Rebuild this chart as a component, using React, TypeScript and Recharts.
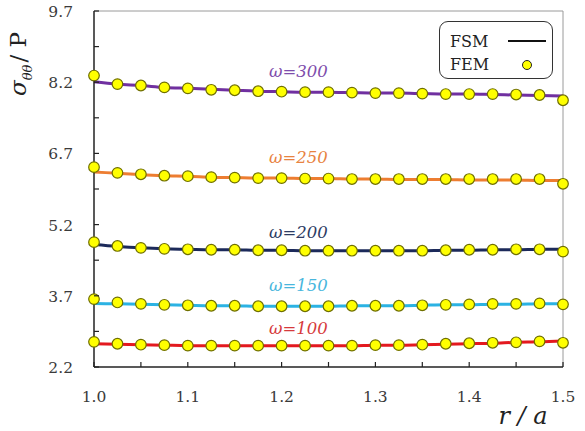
import { ComposedChart, Line, XAxis, YAxis, Legend, ReferenceLine, ReferenceDot } from 'recharts';

// r/a sample positions (FEM nodes)
const rValues = [1.0, 1.025, 1.05, 1.075, 1.1, 1.125, 1.15, 1.175, 1.2, 1.225, 1.25, 1.275, 1.3, 1.325, 1.35, 1.375, 1.4, 1.425, 1.45, 1.475, 1.5];

// FSM curves
const fsm300 = [8.21, 8.16, 8.13, 8.09, 8.07, 8.05, 8.03, 8.01, 8.0, 7.99, 7.99, 7.98, 7.97, 7.97, 7.96, 7.95, 7.95, 7.94, 7.93, 7.92, 7.91];
const fsm250 = [6.31, 6.28, 6.25, 6.23, 6.22, 6.2, 6.19, 6.18, 6.18, 6.17, 6.17, 6.16, 6.16, 6.15, 6.15, 6.15, 6.14, 6.14, 6.14, 6.13, 6.13];
const fsm200 = [4.78, 4.74, 4.71, 4.69, 4.68, 4.67, 4.67, 4.66, 4.66, 4.65, 4.65, 4.65, 4.65, 4.65, 4.65, 4.66, 4.66, 4.67, 4.67, 4.68, 4.68];
const fsm150 = [3.54, 3.53, 3.52, 3.51, 3.5, 3.49, 3.49, 3.48, 3.48, 3.48, 3.48, 3.49, 3.49, 3.49, 3.5, 3.51, 3.51, 3.52, 3.52, 3.53, 3.53];
const fsm100 = [2.69, 2.68, 2.67, 2.66, 2.65, 2.65, 2.65, 2.65, 2.65, 2.65, 2.65, 2.65, 2.66, 2.66, 2.67, 2.68, 2.69, 2.7, 2.72, 2.73, 2.75];

// FEM points
const fem300 = [8.34, 8.16, 8.13, 8.09, 8.07, 8.04, 8.03, 8.01, 8.0, 7.99, 7.99, 7.98, 7.97, 7.97, 7.96, 7.95, 7.95, 7.95, 7.94, 7.93, 7.82];
const fem250 = [6.41, 6.29, 6.26, 6.23, 6.22, 6.2, 6.19, 6.18, 6.18, 6.17, 6.17, 6.16, 6.16, 6.16, 6.16, 6.16, 6.16, 6.16, 6.16, 6.16, 6.06];
const fem200 = [4.83, 4.75, 4.71, 4.69, 4.68, 4.67, 4.67, 4.66, 4.66, 4.65, 4.65, 4.65, 4.65, 4.65, 4.65, 4.66, 4.67, 4.67, 4.68, 4.68, 4.63];
const fem150 = [3.63, 3.56, 3.53, 3.51, 3.5, 3.49, 3.49, 3.48, 3.48, 3.48, 3.48, 3.49, 3.49, 3.49, 3.5, 3.51, 3.52, 3.53, 3.53, 3.54, 3.52];
const fem100 = [2.73, 2.69, 2.67, 2.66, 2.65, 2.65, 2.65, 2.65, 2.65, 2.65, 2.65, 2.65, 2.66, 2.66, 2.67, 2.69, 2.7, 2.71, 2.72, 2.74, 2.71];

const xTicks = [1.0, 1.05, 1.1, 1.15, 1.2, 1.25, 1.3, 1.35, 1.4, 1.45, 1.5];
const xLabels = ['1.0', '1.1', '1.2', '1.3', '1.4', '1.5'];
const yTicks = [2.2, 2.95, 3.7, 4.45, 5.2, 5.95, 6.7, 7.45, 8.2, 8.95, 9.7];
const yLabels = ['2.2', '3.7', '5.2', '6.7', '8.2', '9.7'];

const series = [
  { key: 'w300', label: 'ω=300', fsm: fsm300, fem: fem300, color: '#7030a0', text: '#7e4cab', lx: 1.218, ly: 8.44 },
  { key: 'w250', label: 'ω=250', fsm: fsm250, fem: fem250, color: '#ed7d31', text: '#e8833f', lx: 1.218, ly: 6.63 },
  { key: 'w200', label: 'ω=200', fsm: fsm200, fem: fem200, color: '#1c2a5a', text: '#2d3b63', lx: 1.218, ly: 5.05 },
  { key: 'w150', label: 'ω=150', fsm: fsm150, fem: fem150, color: '#2bb2e3', text: '#48b6dd', lx: 1.218, ly: 3.93 },
  { key: 'w100', label: 'ω=100', fsm: fsm100, fem: fem100, color: '#e3191f', text: '#d63a3c', lx: 1.218, ly: 3.02 },
];

const data = rValues.map((r, i) => {
  const row: Record<string, number> = { r };
  series.forEach(s => {
    row[`fsm_${s.key}`] = s.fsm[i];
    row[`fem_${s.key}`] = s.fem[i];
  });
  return row;
});

const FONT = 'DejaVu Serif, serif';

function XTick({ x, y, payload }: any) {
  const label = payload.value.toFixed(1);
  const isMajor = xLabels.includes(label) && Math.abs(payload.value * 10 - Math.round(payload.value * 10)) < 1e-6;
  return (
    <g>
      <line x1={x} x2={x} y1={y} y2={y - 5} stroke="#222" strokeWidth={1.2} />
      {isMajor && (
        <text x={x} y={y + 35} textAnchor="middle" style={{ fontFamily: FONT }} fontSize={15.5} fill="#3a3a3a">{label}</text>
      )}
    </g>
  );
}

function YTick({ x, y, payload }: any) {
  const label = payload.value.toFixed(1);
  const isMajor = yLabels.includes(label) && Math.abs(((payload.value - 2.2) / 1.5) - Math.round((payload.value - 2.2) / 1.5)) < 1e-6;
  return (
    <g>
      <line x1={x} x2={x + 5} y1={y} y2={y} stroke="#222" strokeWidth={1.2} />
      {isMajor && (
        <text x={x - 21} y={y + 6} textAnchor="end" style={{ fontFamily: FONT }} fontSize={15.5} fill="#3a3a3a">{label}</text>
      )}
    </g>
  );
}

function YTitle() {
  return (
    <text x={26} y={64} transform="rotate(-90, 26, 64)" textAnchor="middle" style={{ fontFamily: FONT }} fontSize={23} fill="#222">
      <tspan fontStyle="italic">σ</tspan>
      <tspan fontStyle="italic" fontSize={13} dy={6}>θθ</tspan>
      <tspan dy={-6} dx={2}>/ P</tspan>
    </text>
  );
}

function XTitle() {
  return (
    <text x={523} y={424} textAnchor="middle" style={{ fontFamily: FONT }} fontSize={24} fontStyle="italic" fill="#222">r / a</text>
  );
}

function LegendBox() {
  return (
    <div style={{ position: 'relative', width: 114, height: 58, border: '1.6px solid #333', borderRadius: 9, background: '#fff', fontFamily: FONT, fontSize: 16, color: '#222', boxSizing: 'border-box' }}>
      <span style={{ position: 'absolute', left: 10, top: 9, lineHeight: '22px' }}>FSM</span>
      <span style={{ position: 'absolute', left: 10, top: 32, lineHeight: '22px' }}>FEM</span>
      <div style={{ position: 'absolute', left: 68, top: 18, width: 38, height: 2.2, background: '#111' }} />
      <div style={{ position: 'absolute', left: 82, top: 38, width: 8, height: 8, borderRadius: '50%', background: '#ffff00', border: '1.5px solid #222' }} />
    </div>
  );
}

export default function App() {
  return (
    <div>
      <style>{'body{margin:0;background:#fff}'}</style>
      <ComposedChart width={585} height={431} data={data} margin={{ top: 11, right: 22, bottom: 0, left: 0 }}>
        <XAxis
          dataKey="r"
          type="number"
          domain={[1.0, 1.5]}
          ticks={xTicks}
          tickSize={0}
          tickMargin={0}
          height={64}
          tick={<XTick />}
          axisLine={{ stroke: '#222', strokeWidth: 1.5 }}
          label={{ content: () => <XTitle /> }}
        />
        <YAxis
          type="number"
          domain={[2.2, 9.7]}
          ticks={yTicks}
          tickSize={0}
          tickMargin={0}
          width={94}
          tick={<YTick />}
          axisLine={{ stroke: '#222', strokeWidth: 1.5 }}
          label={{ content: () => <YTitle /> }}
        />
        <ReferenceLine y={9.7} stroke="#9a9a9a" strokeWidth={1} />
        <ReferenceLine x={1.5} stroke="#9a9a9a" strokeWidth={1} />
        <Legend
          layout="vertical"
          align="center"
          verticalAlign="middle"
          content={() => <LegendBox />}
          wrapperStyle={{ position: 'absolute', left: 439, top: 21, width: 114, height: 58 }}
        />
        {series.map(s => (
          <Line
            key={`fsm_${s.key}`}
            type="monotone"
            dataKey={`fsm_${s.key}`}
            stroke={s.color}
            strokeWidth={3}
            dot={false}
            activeDot={false}
            legendType="none"
            isAnimationActive={false}
          />
        ))}
        {series.map(s => (
          <Line
            key={`fem_${s.key}`}
            type="linear"
            dataKey={`fem_${s.key}`}
            stroke="none"
            dot={{ r: 5.3, fill: '#ffff00', stroke: '#6f6f00', strokeWidth: 1.2 }}
            activeDot={false}
            legendType="none"
            isAnimationActive={false}
          />
        ))}
        {series.map(s => (
          <ReferenceDot
            key={`lbl_${s.key}`}
            x={s.lx}
            y={s.ly}
            r={0}
            fill="none"
            stroke="none"
            label={{ value: s.label, position: 'center', fill: s.text, fontSize: 16.5, fontStyle: 'italic', style: { fontFamily: FONT } }}
          />
        ))}
      </ComposedChart>
    </div>
  );
}
